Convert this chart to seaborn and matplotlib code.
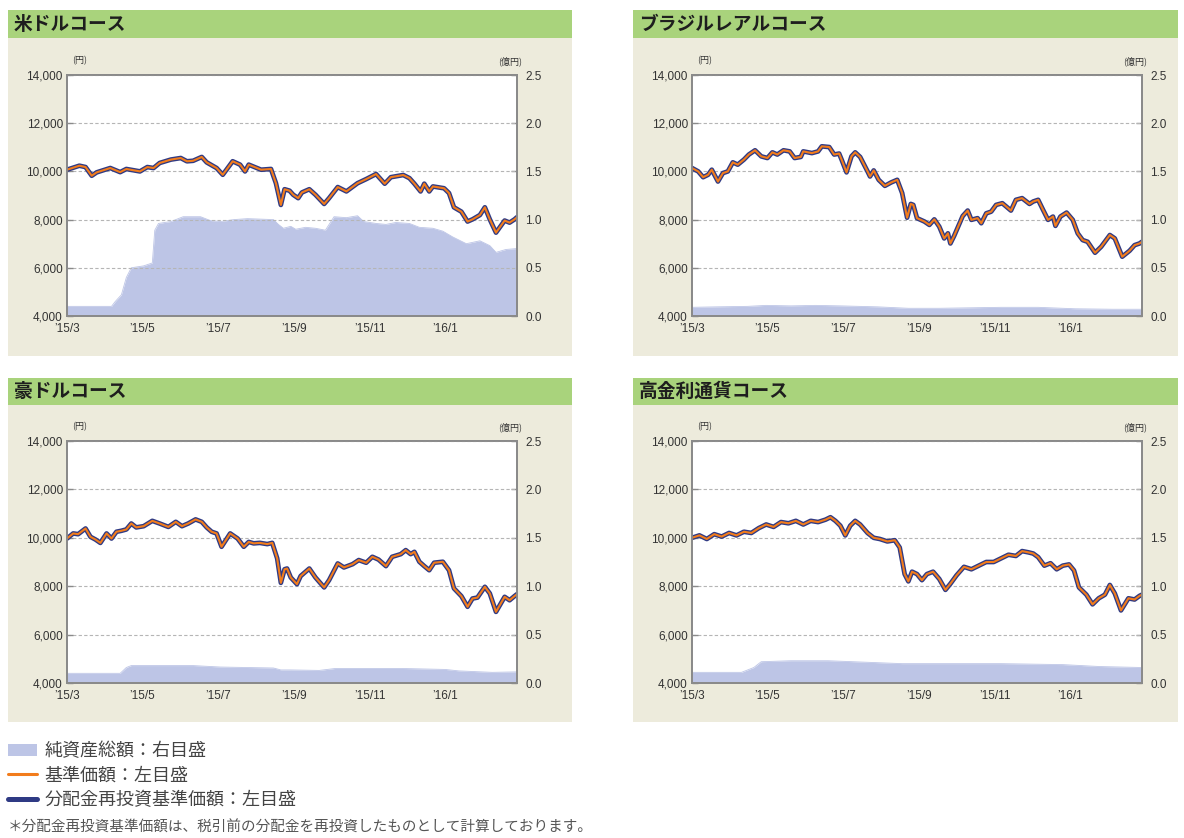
import numpy as np
import pandas as pd
import matplotlib
matplotlib.use("Agg")
import matplotlib.pyplot as plt
import seaborn as sns
from matplotlib.patches import Patch, Rectangle
from matplotlib.lines import Line2D

# ---------------- data ----------------
BASE_DATE = "2015-03-01"
tick_dates = ["2015-03-01", "2015-05-01", "2015-07-01", "2015-09-01", "2015-11-01", "2016-01-01"]
tick_labels = ["’15/3", "’15/5", "’15/7", "’15/9", "’15/11", "’16/1"]
left_ticks = [4000, 6000, 8000, 10000, 12000, 14000]
left_tick_labels = ["4,000", "6,000", "8,000", "10,000", "12,000", "14,000"]
right_ticks = [0.0, 0.5, 1.0, 1.5, 2.0, 2.5]
right_tick_labels = ["0.0", "0.5", "1.0", "1.5", "2.0", "2.5"]

titles = ["米ドルコース", "ブラジルレアルコース", "豪ドルコース", "高金利通貨コース"]

# 米ドルコース
usd_days = [0, 10, 15, 20, 24, 35, 43, 48, 59, 65, 70, 75, 84, 92, 97, 102, 109, 113, 121, 126,
            134, 140, 144, 147, 157, 165, 169, 173, 176, 180, 183, 187, 190, 196, 201, 208, 212,
            219, 226, 235, 242, 250, 257, 262, 272, 277, 281, 286, 289, 293, 296, 305, 309, 313,
            319, 324, 328, 334, 338, 342, 347, 354, 358, 362, 364]
usd_nav = [10070, 10236, 10180, 9820, 9960, 10140, 9970, 10100, 10000, 10180, 10140, 10350, 10490,
           10555, 10420, 10440, 10600, 10375, 10140, 9860, 10420, 10280, 10000, 10280, 10070, 10100,
           9510, 8610, 9260, 9200, 9030, 8890, 9125, 9260, 9030, 8650, 8890, 9350, 9170, 9510, 9680,
           9890, 9490, 9760, 9850, 9720, 9490, 9170, 9490, 9170, 9375, 9300, 9100, 8510, 8330, 7920,
           8010, 8190, 8510, 8010, 7460, 7960, 7875, 8010, 8100]
usd_asset_days = [0, 36, 39, 44, 48, 52, 62, 69, 71, 74, 84, 94, 108, 116, 124, 135, 146, 167, 171,
                  175, 181, 185, 193, 201, 209, 216, 226, 235, 240, 250, 258, 266, 277, 285, 296,
                  304, 312, 323, 334, 342, 347, 355, 364]
usd_assets = [0.10, 0.10, 0.15, 0.22, 0.40, 0.50, 0.52, 0.55, 0.89, 0.96, 0.98, 1.03, 1.03, 0.99,
              0.98, 1.00, 1.01, 1.00, 0.95, 0.91, 0.93, 0.90, 0.92, 0.91, 0.89, 1.03, 1.02, 1.04,
              0.98, 0.96, 0.95, 0.97, 0.96, 0.92, 0.91, 0.88, 0.82, 0.75, 0.78, 0.73, 0.66, 0.69, 0.70]

# ブラジルレアルコース
brl_days = [0, 5, 9, 13, 16, 21, 25, 29, 33, 37, 42, 46, 51, 56, 61, 65, 69, 74, 79, 83, 88, 90,
            97, 102, 105, 111, 115, 119, 121, 125, 129, 132, 136, 142, 144, 147, 151, 156, 161,
            166, 170, 174, 177, 179, 182, 188, 192, 196, 200, 204, 207, 209, 212, 219, 223, 226,
            231, 234, 238, 242, 246, 251, 258, 262, 267, 273, 276, 280, 284, 288, 292, 294, 298,
            303, 308, 312, 316, 320, 326, 331, 338, 342, 348, 354, 358, 362, 364]
brl_nav = [10140, 10000, 9760, 9860, 10070, 9580, 9930, 10000, 10375, 10280, 10490, 10700, 10875,
           10625, 10555, 10790, 10700, 10875, 10830, 10555, 10600, 10830, 10760, 10830, 11040,
           11010, 10700, 10740, 10490, 9960, 10625, 10790, 10600, 10000, 9790, 10040, 9650, 9400,
           9540, 9650, 9100, 8080, 8650, 8610, 8060, 7920, 7780, 8010, 7710, 7220, 7430, 7010,
           7320, 8150, 8375, 7990, 8060, 7850, 8260, 8330, 8610, 8680, 8375, 8820, 8890, 8650,
           8750, 8820, 8400, 7990, 8125, 7740, 8125, 8290, 7990, 7430, 7150, 7080, 6625, 6875,
           7360, 7220, 6460, 6710, 6940, 7010, 7080]
brl_asset_days = [0, 20, 45, 60, 80, 100, 120, 150, 175, 200, 250, 280, 310, 340, 364]
brl_assets = [0.09, 0.095, 0.10, 0.11, 0.105, 0.11, 0.105, 0.095, 0.08, 0.08, 0.09, 0.09, 0.075,
              0.07, 0.07]

# 豪ドルコース
aud_days = [0, 5, 9, 15, 19, 23, 27, 32, 36, 40, 44, 48, 52, 56, 62, 69, 75, 82, 88, 93, 98, 104,
            109, 113, 117, 121, 125, 132, 138, 143, 147, 151, 156, 162, 166, 170, 173, 176, 178,
            181, 186, 189, 196, 201, 208, 212, 219, 224, 231, 236, 242, 247, 252, 258, 263, 270,
            274, 278, 281, 285, 289, 293, 297, 304, 309, 313, 319, 324, 328, 332, 338, 342, 347,
            354, 358, 362, 364]
aud_nav = [9970, 10180, 10150, 10385, 10040, 9930, 9790, 10180, 9970, 10250, 10290, 10345, 10590,
           10430, 10480, 10700, 10590, 10450, 10660, 10480, 10590, 10760, 10660, 10430, 10250,
           10180, 9630, 10180, 9970, 9630, 9830, 9770, 9790, 9740, 9790, 9150, 8140, 8700, 8730,
           8360, 8085, 8420, 8730, 8360, 7950, 8250, 8940, 8775, 8910, 9080, 8970, 9215, 9100,
           8830, 9215, 9325, 9490, 9325, 9420, 9010, 8830, 8660, 8970, 9010, 8660, 7910, 7590,
           7150, 7490, 7530, 7975, 7700, 6940, 7560, 7420, 7590, 7670]
aud_asset_days = [0, 43, 48, 52, 75, 102, 124, 167, 173, 181, 204, 217, 271, 306, 317, 344, 364]
aud_assets = [0.10, 0.10, 0.16, 0.18, 0.18, 0.18, 0.165, 0.155, 0.135, 0.135, 0.13, 0.15, 0.15,
              0.14, 0.125, 0.11, 0.115]

# 高金利通貨コース
hy_days = [0, 6, 12, 18, 24, 30, 36, 42, 48, 54, 60, 66, 72, 78, 84, 90, 96, 102, 108, 112, 116,
           120, 124, 128, 132, 136, 142, 147, 152, 158, 164, 168, 172, 175, 178, 182, 186, 190,
           195, 200, 205, 209, 214, 220, 226, 232, 238, 244, 250, 256, 262, 267, 272, 276, 280,
           285, 290, 295, 300, 305, 309, 313, 319, 324, 329, 334, 338, 342, 347, 353, 358, 362, 364]
hy_nav = [10000, 10100, 9950, 10150, 10050, 10200, 10100, 10250, 10200, 10400, 10550, 10450, 10650,
          10600, 10700, 10550, 10700, 10650, 10750, 10850, 10700, 10500, 10100, 10500, 10700,
          10550, 10200, 10000, 9950, 9850, 9900, 9600, 8500, 8200, 8600, 8500, 8250, 8500, 8600,
          8300, 7850, 8100, 8450, 8800, 8700, 8850, 9000, 9000, 9150, 9300, 9250, 9450, 9400, 9350,
          9200, 8850, 8950, 8700, 8850, 8900, 8650, 7950, 7650, 7250, 7500, 7650, 8050, 7700, 7000,
          7500, 7450, 7600, 7650]
hy_asset_days = [0, 40, 50, 56, 80, 110, 130, 170, 200, 250, 300, 330, 364]
hy_assets = [0.11, 0.11, 0.16, 0.22, 0.23, 0.23, 0.22, 0.20, 0.20, 0.20, 0.19, 0.17, 0.16]

panels_data = [
    (usd_days, usd_nav, usd_asset_days, usd_assets),
    (brl_days, brl_nav, brl_asset_days, brl_assets),
    (aud_days, aud_nav, aud_asset_days, aud_assets),
    (hy_days, hy_nav, hy_asset_days, hy_assets),
]

legend_labels = ["純資産総額：右目盛", "基準価額：左目盛", "分配金再投資基準価額：左目盛"]
footnote = "＊分配金再投資基準価額は、税引前の分配金を再投資したものとして計算しております。"

# ---------------- style ----------------
GREEN = "#a9d37c"
BEIGE = "#edebdc"
FILL = "#bdc5e6"
NAVY = "#2f3a84"
ORANGE = "#f27c1c"
SPINE = "#8a8a8a"
TXT = "#333333"

sns.set_theme(style="white")
plt.rcParams["font.family"] = ["Noto Sans CJK JP", "DejaVu Sans"]

W, H = 1184, 838
fig = plt.figure(figsize=(W / 100, H / 100), dpi=100)
fig.patch.set_facecolor("white")


def frac_rect(x0, y0, x1, y1):
    return [x0 / W, 1 - y1 / H, (x1 - x0) / W, (y1 - y0) / H]


def add_box(x0, y0, x1, y1, color):
    fig.add_artist(Rectangle((x0 / W, 1 - y1 / H), (x1 - x0) / W, (y1 - y0) / H,
                             transform=fig.transFigure, facecolor=color, edgecolor="none", zorder=0))


# panel geometry (pixels): box x0,x1, header y0,y1, box bottom, axes rect
layout = [
    dict(bx0=8, bx1=572, hy0=10, hy1=38, by1=356, ax=(67, 75, 517, 316)),
    dict(bx0=633, bx1=1178, hy0=10, hy1=38, by1=356, ax=(692, 75, 1142, 316)),
    dict(bx0=8, bx1=572, hy0=378, hy1=405, by1=722, ax=(67, 441, 517, 683)),
    dict(bx0=633, bx1=1178, hy0=378, hy1=405, by1=722, ax=(692, 441, 1142, 683)),
]

base = pd.Timestamp(BASE_DATE)
xlim = (base, base + pd.Timedelta(days=364))
num_font = dict(family=["Liberation Sans", "DejaVu Sans"], size=8.5)

for title, lay, (days, nav, adays, assets) in zip(titles, layout, panels_data):
    add_box(lay["bx0"], lay["hy0"], lay["bx1"], lay["hy1"], GREEN)
    add_box(lay["bx0"], lay["hy1"], lay["bx1"], lay["by1"], BEIGE)
    fig.text((lay["bx0"] + 6) / W, 1 - ((lay["hy0"] + lay["hy1"]) / 2) / H, title,
             fontsize=13.5, fontweight="bold", color="#1e1e1e", va="center", ha="left")

    ax0, ay0, ax1, ay1 = lay["ax"]
    axA = fig.add_axes(frac_rect(ax0, ay0, ax1, ay1))
    axA.set_facecolor("white")
    axL = axA.twinx()

    dates = base + pd.to_timedelta(days, unit="D")
    adates = base + pd.to_timedelta(adays, unit="D")

    # net assets area (right scale)
    axA.fill_between(adates, assets, 0, color=FILL, lw=0)
    sns.lineplot(x=adates, y=assets, ax=axA, color=FILL, lw=0.6, estimator=None, sort=False)
    axA.set_ylim(0, 2.5)

    # NAV lines (left scale)
    reinvest_nav = nav  # no distributions paid: reinvested NAV coincides with NAV
    sns.lineplot(x=dates, y=reinvest_nav, ax=axL, color=NAVY, lw=3.4, estimator=None, sort=False)
    sns.lineplot(x=dates, y=nav, ax=axL, color=ORANGE, lw=1.5, estimator=None, sort=False)
    axL.set_ylim(4000, 14000)

    for a in (axA, axL):
        a.set_xlim(*xlim)
        a.set_xlabel("")
        a.set_ylabel("")
        for s in a.spines.values():
            s.set_color(SPINE)
            s.set_linewidth(1.3)

    axA.yaxis.tick_right()
    axL.yaxis.tick_left()
    axA.set_yticks(right_ticks)
    axA.set_yticklabels(right_tick_labels, **num_font, color=TXT)
    axL.set_yticks(left_ticks)
    axL.set_yticklabels(left_tick_labels, **num_font, color=TXT)
    axA.set_xticks(pd.to_datetime(tick_dates))
    axA.set_xticklabels(tick_labels, **num_font, color=TXT)

    axL.yaxis.grid(True, ls=(0, (3, 2)), color="#b5b5b5", lw=0.8)
    axL.xaxis.grid(False)
    axA.grid(False)

    axA.tick_params(axis="x", direction="in", length=4, width=1, color=SPINE, pad=5, bottom=True)
    axA.tick_params(axis="y", direction="in", length=4, width=1, color=SPINE, pad=6, right=True,
                    left=False)
    axL.tick_params(axis="y", direction="in", length=4, width=1, color=SPINE, pad=3, left=True,
                    right=False)

    fig.text((ax0 + 13) / W, 1 - (ay0 - 14) / H, "(円)", fontsize=6.5, color=TXT, ha="center",
             va="center")
    fig.text((ax1 - 7) / W, 1 - (ay0 - 14) / H, "(億円)", fontsize=6.5, color=TXT, ha="center",
             va="center")

handles = [Patch(facecolor=FILL, edgecolor="none"),
           Line2D([], [], color=ORANGE, lw=2.2),
           Line2D([], [], color=NAVY, lw=3.6)]
fig.legend(handles=handles, labels=legend_labels, loc="upper left",
           bbox_to_anchor=(8 / W, 1 - 742 / H), frameon=False, fontsize=13,
           handlelength=1.6, handleheight=0.65, handletextpad=0.4, labelspacing=0.36,
           borderpad=0, borderaxespad=0, labelcolor="#444444")
fig.text(8 / W, 1 - 828 / H, footnote, fontsize=10.5, color="#555555", va="center", ha="left")

fig.savefig("out.png", dpi=100, facecolor="white")
